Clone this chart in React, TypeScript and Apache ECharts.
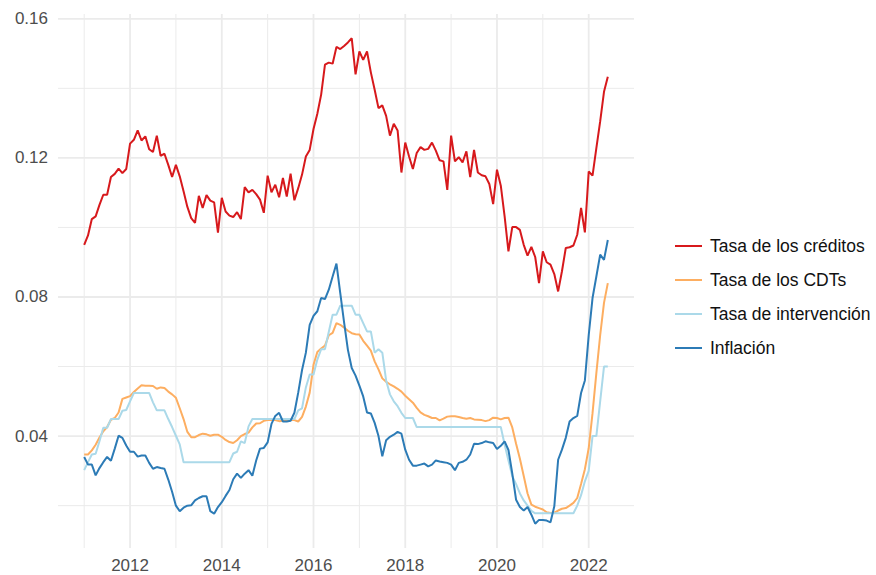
import React, { useEffect, useRef } from "react";
import * as echarts from "echarts";

// Monthly series starting January 2011
const startYear = 2011;

const creditos = [
  0.0950, 0.0977, 0.1024, 0.1032, 0.1065, 0.1094, 0.1094, 0.1145, 0.1154, 0.1169,
  0.1156, 0.1168, 0.1241, 0.1252, 0.1279, 0.1250, 0.1262, 0.1225, 0.1217, 0.1264,
  0.1206, 0.1212, 0.1180, 0.1145, 0.1180, 0.1147, 0.1104, 0.1059, 0.1027, 0.1013,
  0.1091, 0.1056, 0.1093, 0.1077, 0.1072, 0.0985, 0.1085, 0.1046, 0.1034, 0.1030,
  0.1044, 0.1024, 0.1116, 0.1101, 0.1108, 0.1096, 0.1080, 0.1042, 0.1149, 0.1101,
  0.1123, 0.1087, 0.1142, 0.1089, 0.1155, 0.1078, 0.1113, 0.1152, 0.1204, 0.1223,
  0.1283, 0.1327, 0.1382, 0.1468, 0.1474, 0.1471, 0.1519, 0.1513, 0.1522, 0.1532,
  0.1544, 0.1440, 0.1506, 0.1482, 0.1506, 0.1446, 0.1396, 0.1343, 0.1351, 0.1321,
  0.1264, 0.1298, 0.1279, 0.1158, 0.1244, 0.1204, 0.1168, 0.1214, 0.1231, 0.1223,
  0.1226, 0.1244, 0.1221, 0.1193, 0.1190, 0.1108, 0.1264, 0.1190, 0.1202, 0.1187,
  0.1219, 0.1145, 0.1223, 0.1158, 0.1150, 0.1147, 0.1125, 0.1067, 0.1166, 0.1120,
  0.1032, 0.0931, 0.1001, 0.1001, 0.0993, 0.0950, 0.0919, 0.0944, 0.0915, 0.0840,
  0.0931, 0.0900, 0.0893, 0.0866, 0.0816, 0.0874, 0.0941, 0.0943, 0.0948, 0.0979,
  0.1056, 0.0986, 0.1161, 0.1149, 0.1228, 0.1305, 0.1390, 0.1433,
];

const cdts = [
  0.0347, 0.0347, 0.0359, 0.0375, 0.0396, 0.0414, 0.0426, 0.0447, 0.0452, 0.0468,
  0.0507, 0.0511, 0.0515, 0.0527, 0.0537, 0.0546, 0.0545, 0.0545, 0.0544, 0.0536,
  0.0540, 0.0538, 0.0528, 0.0520, 0.0510, 0.0480, 0.0449, 0.0412, 0.0397, 0.0397,
  0.0403, 0.0407, 0.0405, 0.0401, 0.0404, 0.0404, 0.0398, 0.0389, 0.0383, 0.0380,
  0.0388, 0.0400, 0.0406, 0.0410, 0.0425, 0.0436, 0.0437, 0.0444, 0.0446, 0.0447,
  0.0446, 0.0443, 0.0444, 0.0447, 0.0446, 0.0446, 0.0442, 0.0455, 0.0485, 0.0525,
  0.0605, 0.0642, 0.0652, 0.0660, 0.0690, 0.0697, 0.0725, 0.0720, 0.0712, 0.0703,
  0.0696, 0.0693, 0.0692, 0.0674, 0.0660, 0.0646, 0.0615, 0.0592, 0.0566, 0.0556,
  0.0549, 0.0543, 0.0536, 0.0528, 0.0516, 0.0506, 0.0496, 0.0481, 0.0468, 0.0461,
  0.0457, 0.0452, 0.0452, 0.0445, 0.0450, 0.0456, 0.0457, 0.0457, 0.0455, 0.0452,
  0.0450, 0.0452, 0.0448, 0.0447, 0.0446, 0.0443, 0.0446, 0.0453, 0.0452, 0.0448,
  0.0452, 0.0453, 0.0425, 0.0378, 0.0335, 0.0285, 0.0235, 0.0203, 0.0197, 0.0193,
  0.0189, 0.0181, 0.0179, 0.0180, 0.0186, 0.0191, 0.0193, 0.0200, 0.0208, 0.0222,
  0.0262, 0.0305, 0.0365, 0.0466, 0.0581, 0.0690, 0.0783, 0.0840,
];

const intervencion = [
  0.0302, 0.0325, 0.0347, 0.0349, 0.0385, 0.0424, 0.0424, 0.0449, 0.0449, 0.0449,
  0.0473, 0.0475, 0.0500, 0.0524, 0.0524, 0.0524, 0.0524, 0.0524, 0.0497, 0.0474,
  0.0474, 0.0474, 0.0449, 0.0426, 0.0401, 0.0376, 0.0325, 0.0325, 0.0325, 0.0325,
  0.0325, 0.0325, 0.0325, 0.0325, 0.0325, 0.0325, 0.0325, 0.0325, 0.0325, 0.0350,
  0.0355, 0.0385, 0.0380, 0.0428, 0.0449, 0.0449, 0.0449, 0.0449, 0.0449, 0.0449,
  0.0449, 0.0449, 0.0449, 0.0449, 0.0449, 0.0449, 0.0474, 0.0480, 0.0540, 0.0577,
  0.0577, 0.0620, 0.0650, 0.0650, 0.0700, 0.0749, 0.0749, 0.0775, 0.0775, 0.0775,
  0.0775, 0.0749, 0.0749, 0.0725, 0.0701, 0.0701, 0.0640, 0.0650, 0.0640, 0.0560,
  0.0520, 0.0500, 0.0486, 0.0467, 0.0452, 0.0452, 0.0452, 0.0426, 0.0426, 0.0426,
  0.0426, 0.0426, 0.0426, 0.0426, 0.0426, 0.0426, 0.0426, 0.0426, 0.0426, 0.0426,
  0.0426, 0.0426, 0.0426, 0.0426, 0.0426, 0.0426, 0.0426, 0.0426, 0.0426, 0.0426,
  0.0376, 0.0330, 0.0285, 0.0262, 0.0235, 0.0215, 0.0200, 0.0185, 0.0178, 0.0178,
  0.0178, 0.0178, 0.0178, 0.0178, 0.0178, 0.0178, 0.0178, 0.0178, 0.0178, 0.0200,
  0.0230, 0.0270, 0.0300, 0.0400, 0.0400, 0.0500, 0.0600, 0.0600,
];

const inflacion = [
  0.0340, 0.0318, 0.0318, 0.0287, 0.0308, 0.0325, 0.0340, 0.0329, 0.0364, 0.0401,
  0.0395, 0.0373, 0.0355, 0.0355, 0.0341, 0.0344, 0.0344, 0.0323, 0.0306, 0.0311,
  0.0308, 0.0306, 0.0275, 0.0240, 0.0200, 0.0184, 0.0194, 0.0200, 0.0201, 0.0215,
  0.0222, 0.0227, 0.0227, 0.0184, 0.0177, 0.0196, 0.0210, 0.0228, 0.0245, 0.0276,
  0.0292, 0.0280, 0.0292, 0.0302, 0.0286, 0.0330, 0.0364, 0.0366, 0.0382, 0.0435,
  0.0458, 0.0467, 0.0442, 0.0442, 0.0444, 0.0467, 0.0525, 0.0590, 0.0640, 0.0720,
  0.0746, 0.0759, 0.0797, 0.0794, 0.0821, 0.0859, 0.0896, 0.0811, 0.0727, 0.0648,
  0.0596, 0.0574, 0.0545, 0.0514, 0.0468, 0.0465, 0.0438, 0.0400, 0.0342, 0.0388,
  0.0398, 0.0404, 0.0412, 0.0407, 0.0361, 0.0332, 0.0315, 0.0315, 0.0318, 0.0321,
  0.0313, 0.0318, 0.0330, 0.0327, 0.0325, 0.0323, 0.0318, 0.0302, 0.0323, 0.0326,
  0.0332, 0.0347, 0.0378, 0.0377, 0.0380, 0.0385, 0.0382, 0.0380, 0.0363, 0.0372,
  0.0385, 0.0360, 0.0293, 0.0217, 0.0196, 0.0186, 0.0196, 0.0174, 0.0148, 0.0159,
  0.0159, 0.0157, 0.0152, 0.0198, 0.0332, 0.0361, 0.0395, 0.0442, 0.0452, 0.0458,
  0.0524, 0.0560, 0.0690, 0.0797, 0.0859, 0.0922, 0.0907, 0.0964,
];

const seriesNames = [
  "Tasa de los créditos",
  "Tasa de los CDTs",
  "Tasa de intervención",
  "Inflación",
];
const seriesValues = [creditos, cdts, intervencion, inflacion];
const seriesColors = ["#d7191c", "#fdae61", "#abd9e9", "#2c7bb6"];

const xMajorBreaks = [2012, 2014, 2016, 2018, 2020, 2022];
const xMinorBreaks = [2011, 2013, 2015, 2017, 2019, 2021];
const yMajorBreaks = [0.04, 0.08, 0.12, 0.16];
const yMinorBreaks = [0.02, 0.06, 0.1, 0.14];

const FONT = "'Liberation Sans', Arial, Helvetica, sans-serif";

export default function App() {
  const ref = useRef<HTMLDivElement>(null);

  useEffect(() => {
    if (!ref.current) return;
    const chart = echarts.init(ref.current, undefined, { renderer: "svg" });

    const xs = creditos.map((_, i) => startYear + i / 12);
    const xLo = xs[0];
    const xHi = xs[xs.length - 1];
    const xMin = xLo - 0.05 * (xHi - xLo);
    const xMax = xHi + 0.05 * (xHi - xLo);
    const all = seriesValues.flat();
    const yLo = Math.min(...all);
    const yHi = Math.max(...all);
    const yMin = yLo - 0.05 * (yHi - yLo);
    const yMax = yHi + 0.05 * (yHi - yLo);

    const gridColor = "#ebebeb";
    const gridSeries: any[] = [];
    xMinorBreaks.forEach((b) =>
      gridSeries.push({ data: [[b, yMin], [b, yMax]], width: 1 })
    );
    yMinorBreaks.forEach((b) =>
      gridSeries.push({ data: [[xMin, b], [xMax, b]], width: 1 })
    );
    xMajorBreaks.forEach((b) =>
      gridSeries.push({ data: [[b, yMin], [b, yMax]], width: 1.8 })
    );
    yMajorBreaks.forEach((b) =>
      gridSeries.push({ data: [[xMin, b], [xMax, b]], width: 1.8 })
    );

    const series: any[] = gridSeries.map((g) => ({
      type: "line",
      data: g.data,
      symbol: "none",
      silent: true,
      z: 1,
      lineStyle: { color: gridColor, width: g.width },
      emphasis: { disabled: true },
    }));

    seriesNames.forEach((name, k) => {
      series.push({
        name,
        type: "line",
        data: xs.map((x, i) => [x, seriesValues[k][i]]),
        symbol: "none",
        showSymbol: false,
        z: 3,
        lineStyle: { color: seriesColors[k], width: 2 },
        itemStyle: { color: seriesColors[k] },
        emphasis: { disabled: true },
      });
    });

    chart.setOption({
      animation: false,
      backgroundColor: "#ffffff",
      grid: { left: 58, right: 242, top: 14, bottom: 27, containLabel: false },
      xAxis: {
        type: "value",
        min: xMin,
        max: xMax,
        axisLine: { show: false },
        axisTick: { show: false },
        splitLine: { show: false },
        axisLabel: {
          customValues: xMajorBreaks,
          formatter: (v: number) => String(Math.round(v)),
          color: "#4d4d4d",
          fontSize: 17,
          fontFamily: FONT,
          margin: 9,
        },
      },
      yAxis: {
        type: "value",
        min: yMin,
        max: yMax,
        axisLine: { show: false },
        axisTick: { show: false },
        splitLine: { show: false },
        axisLabel: {
          customValues: yMajorBreaks,
          formatter: (v: number) => v.toFixed(2),
          color: "#4d4d4d",
          fontSize: 17,
          fontFamily: FONT,
          margin: 10,
        },
      },
      legend: {
        orient: "vertical",
        left: 670,
        top: 231,
        icon: "rect",
        itemWidth: 27,
        itemHeight: 2,
        itemGap: 14,
        data: seriesNames,
        textStyle: {
          fontSize: 17.5,
          lineHeight: 20,
          color: "#111111",
          fontFamily: FONT,
          padding: [0, 0, 0, 3],
        },
      },
      series,
    });

    return () => chart.dispose();
  }, []);

  return (
    <div
      ref={ref}
      style={{ position: "fixed", left: 0, top: 0, width: 876, height: 575 }}
    />
  );
}
